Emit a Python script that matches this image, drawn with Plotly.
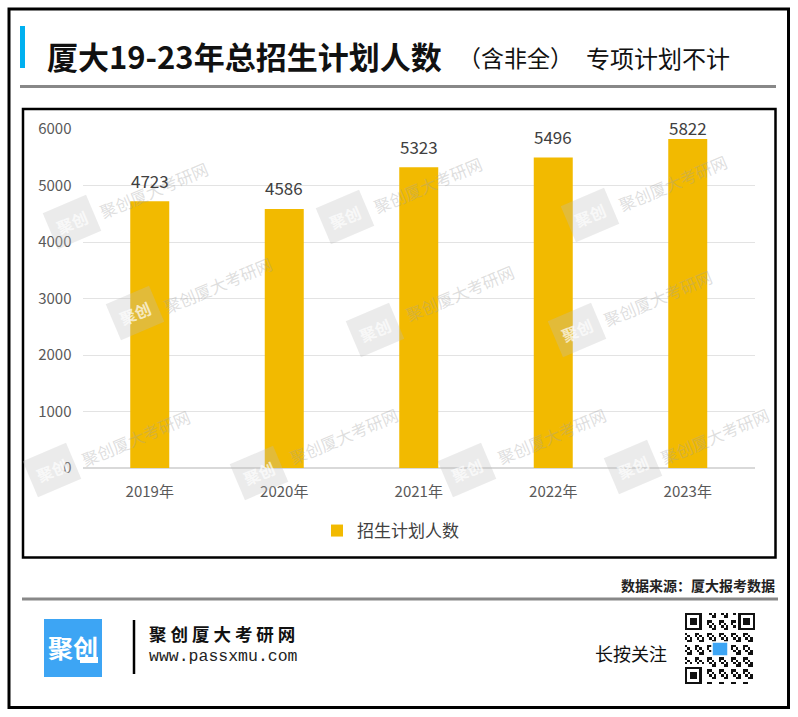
import plotly.graph_objects as go

# ---------------- data ----------------
years = ["2019年", "2020年", "2021年", "2022年", "2023年"]
plan_counts = [4723, 4586, 5323, 5496, 5822]
series_name = "招生计划人数"
y_ticks = [0, 1000, 2000, 3000, 4000, 5000, 6000]

title_main = "厦大19-23年总招生计划人数"
title_paren = "（含非全）"
title_note = "专项计划不计"
source_text = "数据来源：厦大报考数据"
brand_name = "聚 创 厦 大 考 研 网"
brand_url = "www.passxmu.com"
follow_text = "长按关注"
watermark_text = "聚创厦大考研网"
watermark_logo = "聚创"

# ---------------- layout helpers ----------------
W, H = 798, 717
FONT = "Noto Sans CJK SC"


def px(x):
    return x / W


def py(y):
    return 1 - y / H


PLOT_L, PLOT_R, PLOT_T, PLOT_B = 82.5, 755, 129, 468
Y_MAX = 6000

fig = go.Figure()

fig.add_trace(go.Bar(
    x=years, y=plan_counts, name=series_name,
    marker=dict(color="#F2BA00", line=dict(width=0)),
    showlegend=True, hoverinfo="x+y",
))

# ---------------- decorative QR code (drawn as a module grid) ----------------
N = 29
qr = [[0] * N for _ in range(N)]
for i in range(N):
    for j in range(N):
        qr[i][j] = 1 if ((i * 7 + j * 13 + i * j) % 5 < 2) else 0


def finder(r0, c0):
    for i in range(-1, 8):
        for j in range(-1, 8):
            r, c = r0 + i, c0 + j
            if 0 <= r < N and 0 <= c < N:
                if i in (-1, 7) or j in (-1, 7):
                    qr[r][c] = 0
                elif i in (0, 6) or j in (0, 6):
                    qr[r][c] = 1
                elif 2 <= i <= 4 and 2 <= j <= 4:
                    qr[r][c] = 1
                else:
                    qr[r][c] = 0


finder(0, 0)
finder(0, N - 7)
finder(N - 7, 0)

fig.add_trace(go.Heatmap(
    z=qr, xaxis="x2", yaxis="y2", showscale=False,
    colorscale=[[0, "white"], [1, "#111111"]], hoverinfo="skip",
))

# ---------------- shapes ----------------
shapes = []
shapes.append(dict(type="rect", xref="paper", yref="paper",
                   x0=px(9), x1=px(788.5), y0=py(707.5), y1=py(9),
                   line=dict(color="#000000", width=3), layer="above"))
shapes.append(dict(type="rect", xref="paper", yref="paper",
                   x0=px(20), x1=px(25), y0=py(68), y1=py(26),
                   fillcolor="#00B0F0", line=dict(width=0)))
shapes.append(dict(type="line", xref="paper", yref="paper",
                   x0=px(20), x1=px(776), y0=py(86.5), y1=py(86.5),
                   line=dict(color="#888888", width=3)))
shapes.append(dict(type="rect", xref="paper", yref="paper",
                   x0=px(23), x1=px(775.5), y0=py(557.5), y1=py(109),
                   line=dict(color="#000000", width=2.5), layer="above"))
shapes.append(dict(type="line", xref="paper", yref="paper",
                   x0=px(22), x1=px(778), y0=py(599), y1=py(599),
                   line=dict(color="#888888", width=3)))
shapes.append(dict(type="rect", xref="paper", yref="paper",
                   x0=px(44), x1=px(102), y0=py(677), y1=py(619),
                   fillcolor="#3DA5F4", line=dict(width=0)))
shapes.append(dict(type="rect", xref="paper", yref="paper",
                   x0=px(80), x1=px(98), y0=py(663), y1=py(657),
                   fillcolor="#FFFFFF", line=dict(width=0)))
shapes.append(dict(type="line", xref="paper", yref="paper",
                   x0=px(134), x1=px(134), y0=py(674), y1=py(620),
                   line=dict(color="#000000", width=2.5)))
shapes.append(dict(type="rect", xref="paper", yref="paper",
                   x0=px(712), x1=px(728), y0=py(656), y1=py(642),
                   fillcolor="#3DA5F4", line=dict(color="white", width=1.5),
                   layer="above"))

# ---------------- annotations ----------------
ann = []

wm_logo_pos = [(72, 222), (135, 313), (345, 217), (375, 330), (590, 215),
               (577, 330), (52, 470), (259, 473), (467, 470), (633, 467)]
wm_text_pos = [(154, 190), (218, 285), (428, 185), (460, 293), (673, 183),
               (658, 298), (136, 438), (344, 436), (552, 436), (715, 436)]
for (lx, ly) in wm_logo_pos:
    ann.append(dict(x=px(lx), y=py(ly), xref="paper", yref="paper",
                    text="<b>" + watermark_logo + "</b>", showarrow=False,
                    font=dict(family=FONT, size=16, color="rgba(255,255,255,0.7)"),
                    bgcolor="rgba(190,190,190,0.3)", borderpad=7,
                    textangle=-23, xanchor="center", yanchor="middle"))
for (tx, ty) in wm_text_pos:
    ann.append(dict(x=px(tx), y=py(ty), xref="paper", yref="paper",
                    text=watermark_text, showarrow=False,
                    font=dict(family=FONT, size=16.5, color="rgba(160,160,160,0.35)"),
                    textangle=-23, xanchor="center", yanchor="middle"))

px_per_unit = (PLOT_B - PLOT_T) / Y_MAX
for cat, v in zip(years, plan_counts):
    bar_top_px = PLOT_B - v * px_per_unit
    shift = min(21, bar_top_px - 127)
    ann.append(dict(x=cat, y=v, xref="x", yref="y", text=str(v),
                    showarrow=False, yshift=shift, yanchor="middle",
                    font=dict(family=FONT, size=17, color="#404040")))

ann.append(dict(x=px(45), y=py(55), xref="paper", yref="paper",
                text="<b>" + title_main + "</b>", showarrow=False,
                xanchor="left", yanchor="middle",
                font=dict(family=FONT, size=31, color="#111111")))
ann.append(dict(x=px(515), y=py(57), xref="paper", yref="paper",
                text=title_paren, showarrow=False,
                xanchor="center", yanchor="middle",
                font=dict(family=FONT, size=23, color="#111111")))
ann.append(dict(x=px(584), y=py(57), xref="paper", yref="paper",
                text=title_note, showarrow=False,
                xanchor="left", yanchor="middle",
                font=dict(family=FONT, size=24, color="#111111")))

ann.append(dict(x=px(777), y=py(585), xref="paper", yref="paper",
                text="<b>" + source_text + "</b>", showarrow=False,
                xanchor="right", yanchor="middle",
                font=dict(family=FONT, size=14, color="#222222")))

ann.append(dict(x=px(73), y=py(647), xref="paper", yref="paper",
                text="<b>" + watermark_logo + "</b>", showarrow=False,
                xanchor="center", yanchor="middle",
                font=dict(family=FONT, size=25, color="#FFFFFF")))
ann.append(dict(x=px(147), y=py(633), xref="paper", yref="paper",
                text="<b>" + brand_name + "</b>", showarrow=False,
                xanchor="left", yanchor="middle",
                font=dict(family=FONT, size=17.5, color="#111111")))
ann.append(dict(x=px(147), y=py(656), xref="paper", yref="paper",
                text=brand_url, showarrow=False,
                xanchor="left", yanchor="middle",
                font=dict(family="Liberation Mono", size=16.5, color="#222222")))
ann.append(dict(x=px(631), y=py(653), xref="paper", yref="paper",
                text=follow_text, showarrow=False,
                xanchor="center", yanchor="middle",
                font=dict(family=FONT, size=18, color="#111111")))

fig.update_layout(
    width=W, height=H,
    margin=dict(l=0, r=0, t=0, b=0, pad=0, autoexpand=False),
    paper_bgcolor="white", plot_bgcolor="rgba(0,0,0,0)",
    font=dict(family=FONT, color="#595959"),
    bargap=0.71,
    xaxis=dict(domain=[px(PLOT_L), px(PLOT_R)], type="category",
               showgrid=False, showline=False, zeroline=False, ticks="",
               tickfont=dict(family=FONT, size=15, color="#595959"),
               ticklabelstandoff=13, fixedrange=True, automargin=False),
    yaxis=dict(domain=[py(PLOT_B), py(PLOT_T)], range=[0, Y_MAX],
               tickvals=y_ticks, showgrid=True, gridcolor="#E3E3E3", gridwidth=1.2,
               zeroline=True, zerolinecolor="#D9D9D9", zerolinewidth=1.5,
               showline=False, ticks="",
               tickfont=dict(family=FONT, size=15, color="#595959"),
               ticklabelstandoff=10, fixedrange=True, automargin=False),
    xaxis2=dict(domain=[px(685), px(755)], anchor="y2", visible=False,
                fixedrange=True, automargin=False),
    yaxis2=dict(domain=[py(684), py(613)], anchor="x2", visible=False,
                autorange="reversed", fixedrange=True, automargin=False),
    showlegend=True,
    legend=dict(orientation="h", x=px(317), xanchor="left",
                y=py(531), yanchor="middle",
                font=dict(family=FONT, size=17, color="#404040"),
                bgcolor="rgba(0,0,0,0)"),
    shapes=shapes,
    annotations=ann,
)

fig.write_html("out.html", config={"displayModeBar": False},
               post_script="document.body.style.margin='0';")
